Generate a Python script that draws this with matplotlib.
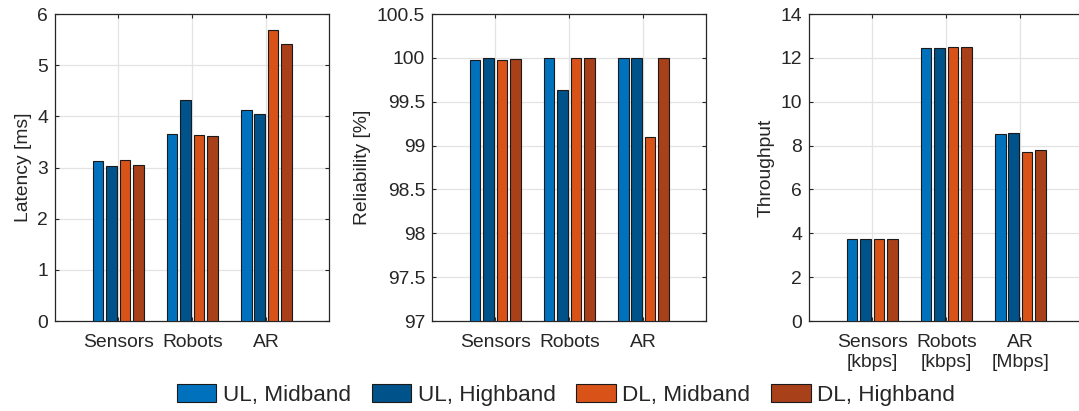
import matplotlib
matplotlib.use("Agg")
import matplotlib.pyplot as plt
from matplotlib.patches import Patch
import numpy as np

plt.rcParams['font.family'] = ['Liberation Sans', 'DejaVu Sans']

categories = ["Sensors", "Robots", "AR"]
tput_labels = ["Sensors\n[kbps]", "Robots\n[kbps]", "AR\n[Mbps]"]
series = ["UL, Midband", "UL, Highband", "DL, Midband", "DL, Highband"]
colors = ["#0072BD", "#00538A", "#D95319", "#A8401A"]

# rows: categories, columns: series
latency = [[3.13, 3.02, 3.14, 3.05],
           [3.65, 4.32, 3.63, 3.62],
           [4.12, 4.04, 5.68, 5.41]]
reliability = [[99.975, 100.0, 99.97, 99.99],
               [100.0, 99.63, 100.0, 100.0],
               [100.0, 100.0, 99.10, 100.0]]
throughput = [[3.73, 3.73, 3.73, 3.73],
              [12.47, 12.45, 12.48, 12.48],
              [8.54, 8.58, 7.69, 7.82]]

fig = plt.figure(figsize=(10.79, 4.11), dpi=100)
W, H = 1079, 411
bottom_px, top_px = 321, 14
ax_w = 274
lefts = [55, 432, 809]

FS = 13.9
LFS = 16.2
txt = "#262626"

def make_ax(left, data, ylim, yticks, yticklabels, ylabel, xlabels):
    ax = fig.add_axes([left / W, 1 - bottom_px / H, ax_w / W, (bottom_px - top_px) / H])
    data = np.array(data)
    x = np.arange(1, len(categories) + 1)
    n = data.shape[1]
    gw = 0.727
    step = gw / n
    bw = 0.8 * step
    for j in range(n):
        off = -gw / 2 + step * (j + 0.5)
        ax.bar(x + off, data[:, j] - ylim[0], bottom=ylim[0], width=bw,
               color=colors[j], edgecolor="#1a1a1a", linewidth=0.8, zorder=3)
    ax.set_xlim(0.145, 3.847)
    ax.set_ylim(*ylim)
    ax.set_yticks(yticks)
    ax.set_yticklabels(yticklabels)
    ax.set_xticks(x)
    ax.set_xticklabels(xlabels, linespacing=1.3)
    ax.grid(True, color="#e3e3e3", linewidth=0.9, zorder=0)
    ax.set_axisbelow(True)
    ax.tick_params(direction="in", length=3, width=0.8, colors="#262626",
                   labelsize=FS, top=True, right=True)
    ax.tick_params(axis="x", pad=9)
    ax.tick_params(axis="y", pad=5)
    for s in ax.spines.values():
        s.set_color("#262626")
        s.set_linewidth(0.9)
    ax.set_ylabel(ylabel, fontsize=FS, color=txt, labelpad=4)
    return ax

make_ax(lefts[0], latency, (0, 6), range(0, 7), [str(v) for v in range(0, 7)],
        "Latency [ms]", categories)
rt = [97, 97.5, 98, 98.5, 99, 99.5, 100, 100.5]
make_ax(lefts[1], reliability, (97, 100.5), rt, ["97", "97.5", "98", "98.5", "99", "99.5", "100", "100.5"],
        "Reliability [%]", categories)
make_ax(lefts[2], throughput, (0, 14), range(0, 15, 2), [str(v) for v in range(0, 15, 2)],
        "Throughput", tput_labels)

handles = [Patch(facecolor=c, edgecolor="#1a1a1a", linewidth=0.8) for c in colors]
fig.legend(handles, series, loc="center", bbox_to_anchor=(566 / W, 1 - 395 / H),
           ncol=4, frameon=False, fontsize=LFS, handlelength=1.75, handleheight=0.87,
           handletextpad=0.3, columnspacing=0.92, labelcolor=txt)

fig.savefig("out.png", dpi=100)
